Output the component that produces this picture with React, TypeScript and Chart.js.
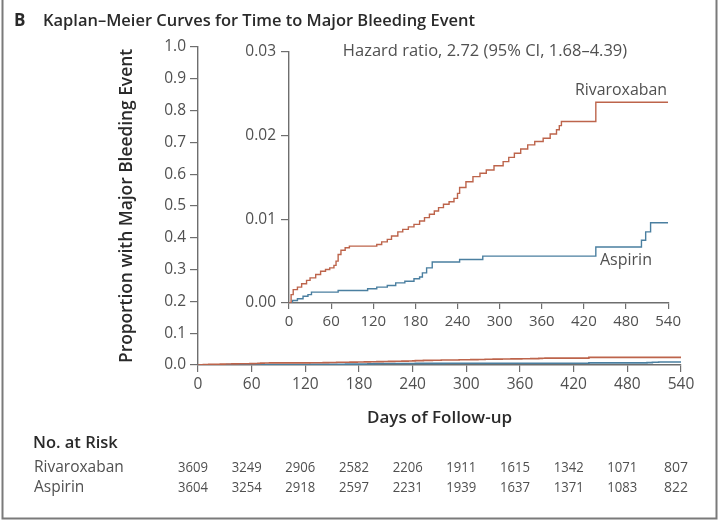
import React, { useEffect, useRef } from "react";
import { Chart, registerables } from "chart.js";

Chart.register(...registerables);

const DAY_TICKS = [0, 60, 120, 180, 240, 300, 360, 420, 480, 540];

const RIVA_DAYS = [0, 3, 6, 12, 18, 25, 30, 38, 45, 52, 58, 64, 67, 70, 74, 80, 86, 125, 132, 140, 146, 155, 162, 170, 178, 186, 193, 200, 207, 213, 220, 228, 235, 240, 243, 252, 262, 272, 281, 292, 305, 313, 321, 330, 340, 350, 362, 372, 381, 385, 388, 437, 540];
const RIVA_VALS = [0, 0.001, 0.0016, 0.0019, 0.0023, 0.0027, 0.003, 0.0034, 0.0038, 0.004, 0.0042, 0.0045, 0.005, 0.0058, 0.0063, 0.0066, 0.0068, 0.007, 0.0073, 0.0076, 0.008, 0.0085, 0.0088, 0.0091, 0.0094, 0.0098, 0.0102, 0.0106, 0.011, 0.0114, 0.0118, 0.0121, 0.0125, 0.0131, 0.0138, 0.0145, 0.0151, 0.0155, 0.0159, 0.0164, 0.0169, 0.0174, 0.0179, 0.0184, 0.0189, 0.0193, 0.0197, 0.0202, 0.0207, 0.0212, 0.0217, 0.024, 0.024];

const ASP_DAYS = [0, 5, 12, 20, 27, 32, 70, 112, 125, 140, 152, 165, 178, 186, 190, 196, 204, 243, 276, 437, 502, 508, 515, 540];
const ASP_VALS = [0, 0.0003, 0.0005, 0.0008, 0.001, 0.0013, 0.0015, 0.0017, 0.0019, 0.0021, 0.0024, 0.0026, 0.0029, 0.0031, 0.0036, 0.0042, 0.0049, 0.0052, 0.0056, 0.0067, 0.0075, 0.0085, 0.0096, 0.0096];

const RISK_RIVA = [3609, 3249, 2906, 2582, 2206, 1911, 1615, 1342, 1071, 807];
const RISK_ASP = [3604, 3254, 2918, 2597, 2231, 1939, 1637, 1371, 1083, 822];

const MAIN_Y_TICKS = [0, 0.1, 0.2, 0.3, 0.4, 0.5, 0.6, 0.7, 0.8, 0.9, 1.0];
const INSET_Y_TICKS = [0, 0.01, 0.02, 0.03];

const PANEL_LETTER = "B";
const TITLE = "Kaplan\u2013Meier Curves for Time to Major Bleeding Event";
const Y_TITLE = "Proportion with Major Bleeding Event";
const X_TITLE = "Days of Follow-up";
const HR_TEXT = "Hazard ratio, 2.72 (95% CI, 1.68\u20134.39)";
const SERIES = ["Rivaroxaban", "Aspirin"];
const RISK_HEADER = "No. at Risk";

const FONT = '"Open Sans", "DejaVu Sans", sans-serif';
const RIVA_COLOR = "#bd644b";
const ASP_COLOR = "#4a7fa0";
const AXIS_COLOR = "#6e6e6e";
const TICK_COLOR = "#505050";
const TEXT_DARK = "#2a2a2a";

function pts(days: number[], vals: number[]) {
  return days.map((d, i) => ({ x: d, y: vals[i] }));
}

function axisCommon(min: number, max: number, ticks: number[], fmt: (v: number) => string, tickLen: number, pad: number, fontSize: number) {
  return {
    type: "linear" as const,
    min,
    max,
    afterBuildTicks: (s: any) => {
      s.ticks = ticks.map((v) => ({ value: v }));
    },
    ticks: {
      autoSkip: false,
      maxRotation: 0,
      color: TICK_COLOR,
      font: { family: FONT, size: fontSize },
      padding: pad,
      callback: (v: any) => fmt(Number(v)),
    },
    grid: {
      drawOnChartArea: false,
      drawTicks: true,
      tickLength: tickLen,
      color: AXIS_COLOR,
      lineWidth: 1.2,
    },
    border: { display: true, color: AXIS_COLOR, width: 1.4 },
  };
}

export default function App() {
  const mainRef = useRef<HTMLCanvasElement | null>(null);
  const insetRef = useRef<HTMLCanvasElement | null>(null);

  useEffect(() => {
    const mainDecor = {
      id: "mainDecor",
      afterDraw(chart: any) {
        const ctx = chart.ctx as CanvasRenderingContext2D;
        const xs = chart.scales.x;
        ctx.save();
        // frame
        ctx.strokeStyle = "#7a7a7a";
        ctx.lineWidth = 2;
        ctx.beginPath();
        ctx.moveTo(2.5, -5);
        ctx.lineTo(2.5, 518.5);
        ctx.lineTo(716.5, 518.5);
        ctx.lineTo(716.5, -5);
        ctx.stroke();
        // title
        ctx.fillStyle = TEXT_DARK;
        ctx.textBaseline = "middle";
        ctx.textAlign = "left";
        ctx.font = `bold 17px ${FONT}`;
        ctx.fillText(PANEL_LETTER, 14, 21);
        ctx.font = `600 16.5px ${FONT}`;
        ctx.fillText(TITLE, 43, 21, 432);
        // y title
        ctx.save();
        ctx.translate(127, 206);
        ctx.rotate(-Math.PI / 2);
        ctx.textAlign = "center";
        ctx.font = `600 17.5px ${FONT}`;
        ctx.fillText(Y_TITLE, 0, 0, 314);
        ctx.restore();
        // x title
        ctx.textAlign = "center";
        ctx.font = `600 17px ${FONT}`;
        ctx.fillText(X_TITLE, (chart.chartArea.left + chart.chartArea.right) / 2, 418, 150);
        // risk table
        ctx.textAlign = "left";
        ctx.font = `600 16.5px ${FONT}`;
        ctx.fillText(RISK_HEADER, 33, 443, 94);
        ctx.fillStyle = TICK_COLOR;
        ctx.font = `15.5px ${FONT}`;
        ctx.fillText(SERIES[0], 34, 468, 92);
        ctx.fillText(SERIES[1], 34, 488, 56);
        ctx.textAlign = "center";
        ctx.font = `14px ${FONT}`;
        DAY_TICKS.forEach((d, i) => {
          const x = xs.getPixelForValue(d) - 5;
          ctx.fillText(String(RISK_RIVA[i]), x, 468, 30);
          ctx.fillText(String(RISK_ASP[i]), x, 488, 30);
        });
        ctx.restore();
      },
    };

    const insetDecor = {
      id: "insetDecor",
      afterDraw(chart: any) {
        const ctx = chart.ctx as CanvasRenderingContext2D;
        ctx.save();
        ctx.textBaseline = "middle";
        ctx.fillStyle = TICK_COLOR;
        ctx.font = `16.5px ${FONT}`;
        ctx.textAlign = "center";
        ctx.fillText(HR_TEXT, 485 - 225, 51 - 30, 298);
        ctx.font = `16px ${FONT}`;
        ctx.textAlign = "left";
        ctx.fillText(SERIES[0], 575 - 225, 90 - 30, 92);
        ctx.fillText(SERIES[1], 600 - 225, 260 - 30, 56);
        ctx.restore();
      },
    };

    const mainChart = new Chart(mainRef.current as HTMLCanvasElement, {
      type: "line",
      data: {
        datasets: [
          { label: SERIES[0], data: pts(RIVA_DAYS, RIVA_VALS), stepped: "before", borderColor: RIVA_COLOR, borderWidth: 1.6, pointRadius: 0, fill: false },
          { label: SERIES[1], data: pts(ASP_DAYS, ASP_VALS), stepped: "before", borderColor: ASP_COLOR, borderWidth: 1.6, pointRadius: 0, fill: false },
        ],
      },
      options: {
        responsive: false,
        animation: false,
        events: [],
        layout: { padding: { left: 138, right: 38, top: 47, bottom: 102 } },
        plugins: { legend: { display: false }, tooltip: { enabled: false } },
        scales: {
          x: { ...axisCommon(0, 540, DAY_TICKS, (v) => String(v), 7, 3, 15.5), afterFit: (s: any) => { s.height = 60; } },
          y: { ...axisCommon(0, 1, MAIN_Y_TICKS, (v) => v.toFixed(1), 8, 4, 15.5), afterFit: (s: any) => { s.width = 60; } },
        },
      } as any,
      plugins: [mainDecor],
    });

    const insetChart = new Chart(insetRef.current as HTMLCanvasElement, {
      type: "line",
      data: {
        datasets: [
          { label: SERIES[0], data: pts(RIVA_DAYS, RIVA_VALS), stepped: "before", borderColor: RIVA_COLOR, borderWidth: 1.4, pointRadius: 0, fill: false },
          { label: SERIES[1], data: pts(ASP_DAYS, ASP_VALS), stepped: "before", borderColor: ASP_COLOR, borderWidth: 1.4, pointRadius: 0, fill: false },
        ],
      },
      options: {
        responsive: false,
        animation: false,
        events: [],
        layout: { padding: { left: 0, right: 16, top: 22, bottom: 0 } },
        plugins: { legend: { display: false }, tooltip: { enabled: false } },
        scales: {
          x: { ...axisCommon(0, 540, DAY_TICKS, (v) => String(v), 6, 4, 15), afterFit: (s: any) => { s.height = 27; } },
          y: { ...axisCommon(0, 0.03, INSET_Y_TICKS, (v) => v.toFixed(2), 8, 5, 15.5), afterFit: (s: any) => { s.width = 64; } },
        },
      } as any,
      plugins: [insetDecor],
    });

    return () => {
      mainChart.destroy();
      insetChart.destroy();
    };
  }, []);

  return (
    <div style={{ position: "fixed", left: 0, top: 0, width: 719, height: 527, background: "#ffffff" }}>
      <canvas ref={mainRef} width={719} height={527} style={{ position: "absolute", left: 0, top: 0, width: 719, height: 527 }} />
      <canvas ref={insetRef} width={460} height={300} style={{ position: "absolute", left: 225, top: 30, width: 460, height: 300 }} />
    </div>
  );
}
